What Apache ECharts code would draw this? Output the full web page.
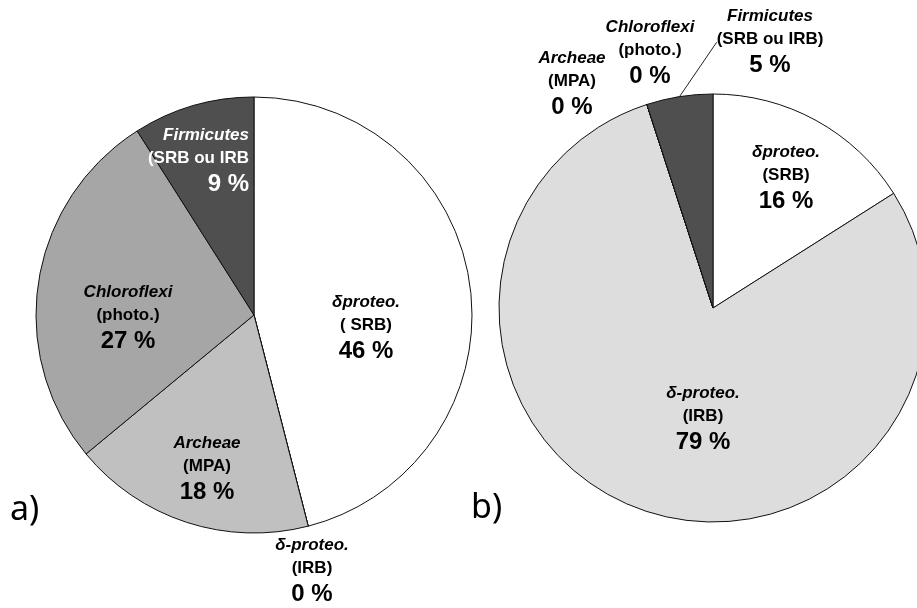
<!DOCTYPE html>
<html>
<head>
<meta charset="utf-8">
<script src="https://cdn.jsdelivr.net/npm/echarts@6/dist/echarts.min.js"></script>
<style>
  html, body { margin: 0; padding: 0; background: #ffffff; }
  #chart { width: 917px; height: 608px; }
</style>
</head>
<body>
<div id="chart"></div>
<script>
// Community groups and their share (%) in the two samples
const groups = ['δproteo.', 'δ-proteo.', 'Archeae', 'Chloroflexi', 'Firmicutes'];
const rolesA = ['( SRB)', '(IRB)', '(MPA)', '(photo.)', '(SRB ou IRB'];
const rolesB = ['(SRB)', '(IRB)', '(MPA)', '(photo.)', '(SRB ou IRB)'];
const valuesA = [46, 0, 18, 27, 9];
const valuesB = [16, 79, 0, 0, 5];
const panelTags = ['a)', 'b)'];

// Grey shades per group
const fills = ['#ffffff', '#dddddd', '#c0c0c0', '#a6a6a6', '#4f4f4f'];

// Label placement: [anchor x, top of text block, horizontal alignment]
const labelSpotsA = [[366, 291, 'center'], [312, 534, 'center'], [207, 432, 'center'], [128, 281, 'center'], [249, 124, 'right']];
const labelSpotsB = [[786, 141, 'center'], [703, 382, 'center'], [572, 47, 'center'], [650, 16, 'center'], [770, 5, 'center']];

const FONT = '"Liberation Sans", Arial, sans-serif';
const rich = {
  n: { fontFamily: FONT, fontSize: 17, fontWeight: 'bold', fontStyle: 'italic', lineHeight: 22 },
  s: { fontFamily: FONT, fontSize: 17, fontWeight: 'bold', lineHeight: 24 },
  p: { fontFamily: FONT, fontSize: 24, fontWeight: 'bold', lineHeight: 28 }
};

function makeFormatter(roles) {
  return function (p) {
    return '{n|' + p.name + '}\n{s|' + roles[p.dataIndex] + '}\n{p|' + p.value + ' %}';
  };
}

function makeSeries(values, roles, spots, center, radius, itemLabel, itemLine) {
  return {
    type: 'pie',
    center: center,
    radius: radius,
    startAngle: 90,
    clockwise: true,
    silent: true,
    animation: false,
    avoidLabelOverlap: false,
    emphasis: { disabled: true },
    itemStyle: { borderColor: '#111111', borderWidth: 1 },
    label: {
      show: true,
      position: 'inside',
      color: '#000000',
      formatter: makeFormatter(roles),
      rich: rich
    },
    labelLine: { show: false },
    labelLayout: function (p) {
      const s = spots[p.dataIndex];
      return { x: s[0], y: s[1], align: s[2], verticalAlign: 'top' };
    },
    data: values.map(function (v, i) {
      const d = { name: groups[i], value: v, itemStyle: { color: fills[i] } };
      if (itemLabel[i]) d.label = itemLabel[i];
      if (itemLine[i]) d.labelLine = itemLine[i];
      return d;
    })
  };
}

const chart = echarts.init(document.getElementById('chart'), null, { renderer: 'canvas' });

chart.setOption({
  backgroundColor: '#ffffff',
  series: [
    makeSeries(valuesA, rolesA, labelSpotsA, [254, 315], 218,
      { 4: { color: '#ffffff' } }, {}),
    makeSeries(valuesB, rolesB, labelSpotsB, [713, 308], 214,
      { 4: { position: 'outside' } },
      { 4: { show: true, length: 8, length2: 0, lineStyle: { color: '#222222', width: 1 } } })
  ],
  graphic: [
    { type: 'text', x: 10, y: 510, silent: true,
      style: { text: panelTags[0], font: 'normal 34px "Noto Sans"', fill: '#000000', verticalAlign: 'middle' } },
    { type: 'text', x: 471, y: 508, silent: true,
      style: { text: panelTags[1], font: 'normal 34px "Noto Sans"', fill: '#000000', verticalAlign: 'middle' } }
  ]
});
</script>
</body>
</html>
